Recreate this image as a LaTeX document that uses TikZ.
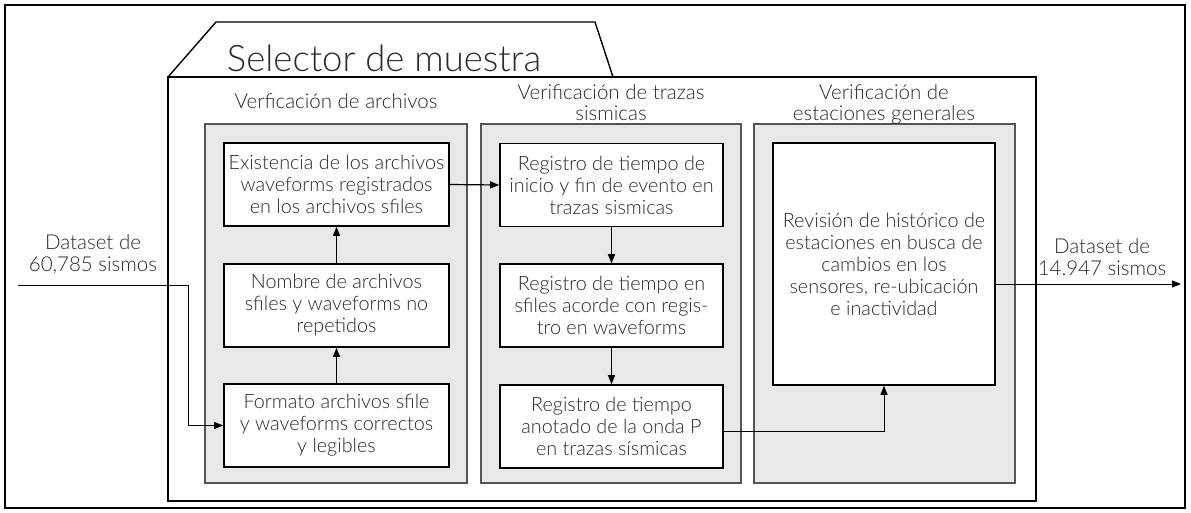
\documentclass[tikz,border=0pt]{standalone}
\usepackage{fontspec}
\IfFontExistsTF{Lato Light}{\setmainfont{Lato Light}}{\setmainfont{Lato}}
\usetikzlibrary{arrows.meta,calc}
\definecolor{panelgray}{HTML}{E8E8E8}
\definecolor{panelline}{HTML}{555555}
\definecolor{txt}{HTML}{2A2A2A}
\tikzset{
  proc/.style={draw=black, line width=1.6pt, fill=white, align=center, text=txt,
    font=\fontsize{19.8}{22}\selectfont, inner sep=0pt},
  panel/.style={draw=panelline, line width=1.3pt, fill=panelgray},
  hdr/.style={align=center, text=txt, font=\fontsize{20.5}{21}\selectfont},
  lbl/.style={align=center, text=txt, font=\fontsize{20.5}{22}\selectfont},
  conn/.style={line width=1.2pt, -{Triangle[length=9pt,width=7pt]}},
  thin/.style={line width=0.9pt, -{Triangle[length=9pt,width=7pt]}}
}
\begin{document}
\begin{tikzpicture}[x=1pt,y=-1pt]
\useasboundingbox (0,0) rectangle (1191,512);
% outer frame
\draw[line width=1.8pt] (5,5) rectangle (1185,508);
% inner box with tab
\draw[line width=1.4pt, fill=white] (168,77) rectangle (1036,501);
\draw[line width=1.4pt] (168,77) -- (216,22) -- (595,22) -- (613,77);
\node[text=txt, font=\fontsize{36.5}{40}\selectfont, anchor=base] (title) at (384,71) {Selector de muestra};
% panels
\draw[panel] (205,124) rectangle (467,483);
\draw[panel] (481,124) rectangle (741,483);
\draw[panel] (754,124) rectangle (1015,483);
\node[hdr] (h1) at (336,101) {Verficación de archivos};
\node[hdr] (h2) at (611,103) {Verificación de trazas\\sismicas};
\node[hdr] (h3) at (884,104) {Verificación de\\estaciones generales};
% process nodes
\node[proc, minimum width=225pt, minimum height=83pt] (exi) at (336.5,184.5)
  {Existencia de los archivos\\waveforms registrados\\en los archivos sfiles};
\node[proc, minimum width=225pt, minimum height=83pt] (nom) at (336.5,305.5)
  {Nombre de archivos\\sfiles y waveforms no\\repetidos};
\node[proc, minimum width=225pt, minimum height=83pt] (for) at (336.5,425.5)
  {Formato archivos sfile\\y waveforms correctos\\y legibles};
\node[proc, minimum width=223pt, minimum height=83pt] (ini) at (611.5,185)
  {Registro de tiempo de\\inicio y fin de evento en\\trazas sismicas};
\node[proc, minimum width=223pt, minimum height=83pt] (sfi) at (611.5,305.5)
  {Registro de tiempo en\\sfiles acorde con regis-\\tro en waveforms};
\node[proc, minimum width=223pt, minimum height=83pt] (ano) at (611.5,426.5)
  {Registro de tiempo\\anotado de la onda P\\en trazas sísmicas};
\node[proc, minimum width=222pt, minimum height=242pt] (rev) at (884,264)
  {Revisión de histórico de\\estaciones en busca de\\cambios en los\\sensores, re-ubicación\\e inactividad};
% labels
\node[lbl] (din) at (93,254) {Dataset de\\60,785 sismos};
\node[lbl] (dout) at (1102,257) {Dataset de\\14.947 sismos};
\coordinate (src) at (18,285);
\coordinate (bend) at (188,285);
\coordinate (dst) at (1181,284);
% connectors
\draw[thin] (src) -- (bend) |- (for.west);
\draw[conn] (for.north) -- (nom.south);
\draw[conn] (nom.north) -- (exi.south);
\draw[conn] (exi.east) -- (ini.west);
\draw[conn] (ini.south) -- (sfi.north);
\draw[conn] (sfi.south) -- (ano.north);
\draw[thin] (ano.east |- 0,431) -| (rev.south);
\draw[thin] (rev.east |- dst) -- (dst);
\end{tikzpicture}
\end{document}
